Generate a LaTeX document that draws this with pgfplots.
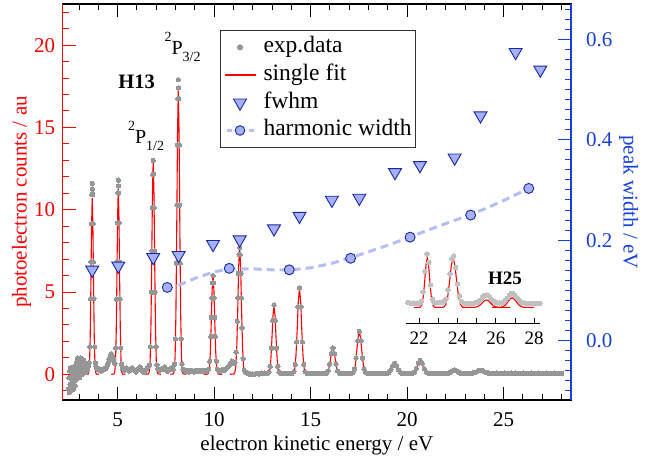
\documentclass[border=0pt]{standalone}
\usepackage{fontspec}
\setmainfont{Liberation Serif}
\usepackage{pgfplots}
\pgfplotsset{compat=1.18}
\usepackage{pgfplotstable}

\definecolor{fitred}{RGB}{255,0,0}
\definecolor{axblue}{RGB}{25,65,215}
\definecolor{trifill}{RGB}{165,176,245}
\definecolor{triedge}{RGB}{25,40,165}
\definecolor{dashc}{RGB}{182,190,246}
\definecolor{dotgray}{RGB}{150,150,150}
\definecolor{insetgray}{RGB}{192,192,192}
\definecolor{legframe}{RGB}{50,50,50}

% experimental data (main spectrum)
\pgfplotstableread{
x y
2.45 -0.90
2.47 -0.20
2.49 -1.10
2.51 0.20
2.53 -0.60
2.55 0.40
2.57 -1.00
2.59 -0.30
2.61 0.30
2.63 -0.80
2.65 0.00
2.67 -0.50
2.69 0.45
2.71 -0.90
2.73 0.10
2.75 -0.40
2.77 0.30
2.79 -0.70
2.81 0.20
2.83 -0.20
2.85 0.60
2.87 -0.30
2.89 0.80
2.91 0.10
2.93 1.00
2.95 -0.10
2.97 0.70
2.99 0.30
3.01 0.90
3.03 -0.20
3.05 0.60
3.07 1.00
3.09 0.20
3.11 0.80
3.13 0.40
3.15 0.95
3.17 0.00
3.19 0.70
3.21 0.50
3.23 0.85
3.25 0.30
3.27 0.60
3.29 0.20
3.31 0.70
3.33 0.40
3.35 0.60
3.37 0.15
3.39 0.50
3.41 0.35
3.43 0.65
3.45 0.40
3.47 0.55
3.49 0.50
3.512 0.71
3.554 1.68
3.596 4.60
3.617 6.83
3.638 9.15
3.659 10.93
3.680 11.60
3.690 11.25
3.701 10.93
3.722 9.15
3.743 6.83
3.764 4.60
3.806 1.68
3.848 0.71
3.87 0.50
3.91 0.35
3.95 0.40
3.99 0.30
4.03 0.35
4.07 0.25
4.11 0.30
4.15 0.20
4.19 0.30
4.23 0.25
4.27 0.35
4.31 0.30
4.35 0.40
4.39 0.35
4.43 0.45
4.47 0.55
4.51 0.70
4.55 0.90
4.59 1.05
4.63 1.20
4.67 1.25
4.71 1.15
4.75 1.00
4.79 0.85
4.83 0.70
4.856 0.65
4.900 1.60
4.943 4.57
4.965 6.84
4.987 9.20
5.008 11.02
5.030 11.80
5.040 11.45
5.052 11.02
5.073 9.20
5.095 6.84
5.117 4.57
5.160 1.60
5.204 0.61
5.25 0.35
5.30 0.30
5.35 0.25
5.40 0.35
5.45 0.40
5.50 0.30
5.55 0.25
5.60 0.20
5.65 0.25
5.70 0.35
5.75 0.40
5.80 0.35
5.85 0.25
5.90 0.20
5.95 0.15
6.00 0.25
6.05 0.35
6.10 0.40
6.15 0.45
6.20 0.35
6.25 0.25
6.30 0.15
6.35 0.10
6.40 0.15
6.45 0.25
6.50 0.35
6.55 0.45
6.60 0.50
6.648 0.58
6.696 1.68
6.744 4.98
6.768 7.50
6.792 10.13
6.816 12.15
6.840 13.00
6.864 12.15
6.888 10.13
6.912 7.50
6.936 4.98
6.984 1.68
7.032 0.58
7.08 0.35
7.13 0.30
7.18 0.25
7.23 0.30
7.28 0.35
7.33 0.30
7.38 0.40
7.43 0.45
7.48 0.35
7.53 0.25
7.58 0.20
7.63 0.25
7.68 0.30
7.73 0.35
7.78 0.40
7.83 0.35
7.88 0.30
7.942 0.62
7.991 2.16
8.041 6.76
8.066 10.28
8.090 13.93
8.115 16.75
8.140 17.90
8.150 17.40
8.165 16.75
8.190 13.93
8.214 10.28
8.239 6.76
8.289 2.16
8.338 0.62
8.39 0.30
8.44 0.25
8.50 0.20
8.55 0.20
8.60 0.25
8.65 0.20
8.70 0.15
8.75 0.20
8.80 0.25
8.85 0.20
8.90 0.20
8.95 0.15
9.00 0.20
9.05 0.25
9.10 0.20
9.15 0.20
9.20 0.25
9.25 0.20
9.30 0.20
9.35 0.20
9.40 0.25
9.45 0.20
9.50 0.20
9.55 0.25
9.60 0.20
9.65 0.25
9.712 0.31
9.769 0.80
9.826 2.30
9.855 3.45
9.883 4.64
9.912 5.56
9.940 6.00
9.969 5.56
9.997 4.64
10.026 3.45
10.054 2.30
10.111 0.80
10.168 0.31
10.22 0.25
10.27 0.20
10.32 0.25
10.37 0.20
10.42 0.25
10.47 0.30
10.52 0.25
10.57 0.30
10.62 0.35
10.67 0.40
10.72 0.45
10.77 0.50
10.82 0.60
10.87 0.70
10.92 0.80
10.97 0.75
11.02 0.65
11.08 0.73
11.14 1.35
11.20 3.22
11.23 4.65
11.26 6.13
11.29 7.27
11.32 7.70
11.35 7.27
11.38 6.13
11.41 4.65
11.44 2.82
11.50 0.95
11.56 0.25
11.62 0.15
11.68 0.10
11.75 0.05
11.82 0.00
11.90 0.02
11.98 0.02
12.06 0.00
12.14 0.03
12.22 0.05
12.30 0.02
12.38 0.05
12.46 0.08
12.54 0.05
12.62 0.07
12.70 0.05
12.748 0.05
12.836 0.13
12.902 0.49
12.968 1.58
13.034 3.28
13.100 4.20
13.166 3.28
13.232 1.58
13.298 0.49
13.364 0.13
13.452 0.05
13.52 0.05
13.60 0.05
13.68 0.06
13.76 0.05
13.84 0.05
13.92 0.06
13.98 0.05
14.028 0.05
14.126 0.15
14.199 0.60
14.273 1.97
14.347 4.10
14.420 5.25
14.494 4.10
14.567 1.97
14.641 0.60
14.714 0.15
14.812 0.05
14.89 0.05
14.97 0.05
15.05 0.06
15.13 0.05
15.21 0.05
15.29 0.05
15.37 0.06
15.45 0.05
15.53 0.05
15.62 0.05
15.710 0.05
15.820 0.08
15.902 0.21
15.985 0.62
16.068 1.26
16.150 1.60
16.233 1.26
16.315 0.62
16.398 0.21
16.480 0.08
16.590 0.05
16.68 0.05
16.77 0.05
16.86 0.06
16.95 0.05
17.072 0.05
17.184 0.10
17.268 0.32
17.352 0.99
17.436 2.04
17.520 2.60
17.604 2.04
17.688 0.99
17.772 0.32
17.856 0.10
17.968 0.05
18.06 0.05
18.15 0.05
18.24 0.06
18.33 0.05
18.42 0.05
18.51 0.05
18.60 0.05
18.70 0.05
18.822 0.05
18.954 0.06
19.053 0.12
19.152 0.28
19.251 0.53
19.350 0.67
19.449 0.53
19.548 0.28
19.647 0.12
19.746 0.06
19.878 0.05
20.00 0.05
20.128 0.05
20.266 0.065
20.370 0.13
20.473 0.35
20.577 0.67
20.680 0.85
20.784 0.67
20.887 0.35
20.991 0.13
21.094 0.065
21.232 0.05
21.33 0.05
21.43 0.05
21.53 0.06
21.63 0.05
21.73 0.05
21.83 0.05
21.93 0.05
22.018 0.05
22.126 0.07
22.234 0.13
22.342 0.22
22.450 0.27
22.558 0.22
22.666 0.13
22.774 0.07
22.882 0.05
22.98 0.05
23.08 0.05
23.18 0.05
23.272 0.05
23.404 0.07
23.536 0.12
23.668 0.21
23.800 0.25
23.932 0.21
24.064 0.12
24.196 0.07
24.328 0.05
24.43 0.06
24.53 0.04
24.63 0.07
24.73 0.05
24.83 0.06
24.93 0.04
25.03 0.07
25.13 0.05
25.23 0.06
25.33 0.04
25.43 0.08
25.53 0.06
25.63 0.07
25.73 0.05
25.83 0.06
25.93 0.04
26.03 0.07
26.13 0.05
26.23 0.06
26.33 0.04
26.43 0.07
26.53 0.05
26.63 0.06
26.73 0.04
26.83 0.07
26.93 0.05
27.03 0.06
27.13 0.04
27.23 0.07
27.33 0.05
27.43 0.06
27.53 0.04
27.63 0.07
27.73 0.05
27.83 0.06
27.93 0.04
28.00 0.05
}\expdata

% inset experimental data
\pgfplotstableread{
x y
21.4 0.10
21.5 0.09
21.6 0.08
21.7 0.09
21.8 0.08
21.9 0.09
22.0 0.08
22.1 0.12
22.2 0.31
22.3 0.72
22.4 1.07
22.5 0.90
22.6 0.45
22.7 0.17
22.8 0.09
22.9 0.09
23.0 0.10
23.1 0.10
23.2 0.10
23.3 0.12
23.4 0.17
23.5 0.35
23.6 0.67
23.7 0.97
23.8 1.03
23.9 0.80
24.0 0.47
24.1 0.23
24.2 0.12
24.3 0.09
24.4 0.08
24.5 0.08
24.6 0.08
24.7 0.08
24.8 0.08
24.9 0.09
25.0 0.10
25.1 0.12
25.2 0.15
25.3 0.20
25.4 0.24
25.5 0.25
25.6 0.24
25.7 0.20
25.8 0.15
25.9 0.12
26.0 0.10
26.1 0.09
26.2 0.09
26.3 0.09
26.4 0.11
26.5 0.15
26.6 0.19
26.7 0.24
26.8 0.28
26.9 0.28
27.0 0.24
27.1 0.19
27.2 0.15
27.3 0.11
27.4 0.09
27.5 0.09
27.6 0.08
27.7 0.08
27.8 0.08
27.9 0.08
28.0 0.08
28.1 0.08
28.2 0.08
28.3 0.08
}\insetdata

\begin{document}
\begin{tikzpicture}
\begin{axis}[name=main,
  scale only axis, width=508.3pt, height=396pt,
  xmin=2.15, xmax=28.49, ymin=-1.56, ymax=22.5,
  enlargelimits=false, clip=false,
  axis line style={black, line width=1.1pt},
  tick align=inside,
  major tick length=13pt, minor tick length=6pt,
  xtick={5,10,15,20,25}, minor xtick={3,4,...,28},
  ytick={0,5,10,15,20}, minor ytick={-1,0,...,22},
  ytick pos=left, xtick pos=both,
  x tick style={black, line width=1pt},
  y tick style={fitred, line width=1pt},
  /pgf/number format/assume math mode=true,
  tick label style={font=\fontsize{21}{25}\selectfont},
  xticklabel style={anchor=base, yshift=-26.7pt},
  yticklabel style={text=fitred, anchor=east, inner sep=0pt, xshift=-7.5pt},
]
\addplot[only marks, mark=*, color=dotgray, mark size=2.2pt, mark options={draw=dotgray, fill=dotgray, line width=0pt}] table[x=x,y=y] {\expdata};

\addplot[fitred, line width=1.1pt] coordinates {(3.33,0) (3.47,0.02) (3.505,0.14) (3.54,0.67) (3.575,2.25) (3.61,5.35) (3.645,9.0) (3.68,10.7) (3.715,9.0) (3.75,5.35) (3.785,2.25) (3.82,0.67) (3.855,0.14) (3.89,0.02) (4.03,0)};
\addplot[fitred, line width=1.1pt] coordinates {(4.6675,0) (4.8125,0.02) (4.849,0.15) (4.885,0.71) (4.921,2.37) (4.9575,5.65) (4.994,9.50) (5.03,11.3) (5.066,9.50) (5.1025,5.65) (5.139,2.37) (5.175,0.71) (5.211,0.15) (5.2475,0.02) (5.3925,0)};
\addplot[fitred, line width=1.1pt] coordinates {(6.44,0) (6.60,0.03) (6.64,0.17) (6.68,0.81) (6.72,2.73) (6.76,6.5) (6.80,10.93) (6.84,13.0) (6.88,10.93) (6.92,6.5) (6.96,2.73) (7.00,0.81) (7.04,0.17) (7.08,0.03) (7.24,0)};
\addplot[fitred, line width=1.1pt] coordinates {(7.7275,0) (7.8925,0.03) (7.934,0.23) (7.975,1.08) (8.016,3.63) (8.0575,8.65) (8.099,14.55) (8.14,17.3) (8.181,14.55) (8.2225,8.65) (8.264,3.63) (8.305,1.08) (8.346,0.23) (8.3875,0.03) (8.5525,0)};
\addplot[fitred, line width=1.1pt] coordinates {(9.465,0) (9.655,0.01) (9.7025,0.08) (9.75,0.38) (9.7975,1.27) (9.845,3.03) (9.8925,5.09) (9.94,6.05) (9.9875,5.09) (10.035,3.03) (10.0825,1.27) (10.13,0.38) (10.1775,0.08) (10.225,0.01) (10.415,0)};
\addplot[fitred, line width=1.1pt] coordinates {(10.82,0) (11.02,0.02) (11.07,0.10) (11.12,0.49) (11.17,1.64) (11.22,3.9) (11.27,6.56) (11.32,7.8) (11.37,6.56) (11.42,3.9) (11.47,1.64) (11.52,0.49) (11.57,0.10) (11.62,0.02) (11.82,0)};
\addplot[fitred, line width=1.1pt] coordinates {(12.55,0) (12.77,0.01) (12.825,0.05) (12.88,0.26) (12.935,0.88) (12.99,2.1) (13.045,3.53) (13.1,4.2) (13.155,3.53) (13.21,2.1) (13.265,0.88) (13.32,0.26) (13.375,0.05) (13.43,0.01) (13.65,0)};
\addplot[fitred, line width=1.1pt] coordinates {(13.8075,0) (14.0525,0.01) (14.114,0.07) (14.175,0.33) (14.236,1.10) (14.2975,2.63) (14.359,4.42) (14.42,5.25) (14.481,4.42) (14.5425,2.63) (14.604,1.10) (14.665,0.33) (14.726,0.07) (14.7875,0.01) (15.0325,0)};
\addplot[fitred, line width=1.1pt] coordinates {(15.4625,0) (15.7375,0) (15.806,0.02) (15.875,0.10) (15.944,0.34) (16.0125,0.80) (16.081,1.35) (16.15,1.6) (16.219,1.35) (16.2875,0.80) (16.356,0.34) (16.425,0.10) (16.494,0.02) (16.5625,0) (16.8375,0)};
\addplot[fitred, line width=1.1pt] coordinates {(16.82,0) (17.1,0.01) (17.17,0.03) (17.24,0.16) (17.31,0.55) (17.38,1.3) (17.45,2.19) (17.52,2.6) (17.59,2.19) (17.66,1.3) (17.73,0.55) (17.80,0.16) (17.87,0.03) (17.94,0.01) (18.22,0)};
\addplot[fitred, line width=1.1pt] coordinates {(18.525,0) (18.855,0) (18.9375,0.01) (19.02,0.04) (19.1025,0.14) (19.185,0.33) (19.2675,0.55) (19.35,0.65) (19.4325,0.55) (19.515,0.33) (19.5975,0.14) (19.68,0.04) (19.7625,0.01) (19.845,0) (20.175,0)};
\addplot[fitred, line width=1.1pt] coordinates {(19.8175,0) (20.1625,0) (20.249,0.01) (20.335,0.05) (20.421,0.17) (20.5075,0.41) (20.594,0.69) (20.68,0.82) (20.766,0.69) (20.8525,0.41) (20.939,0.17) (21.025,0.05) (21.111,0.01) (21.1975,0) (21.5425,0)};
\addplot[fitred, line width=1.1pt] coordinates {(21.55,0) (21.91,0) (22.0,0) (22.09,0.02) (22.18,0.05) (22.27,0.13) (22.36,0.21) (22.45,0.25) (22.54,0.21) (22.63,0.13) (22.72,0.05) (22.81,0.02) (22.9,0) (22.99,0) (23.35,0)};
\addplot[fitred, line width=1.1pt] coordinates {(22.7,0) (23.14,0) (23.25,0) (23.36,0.01) (23.47,0.05) (23.58,0.11) (23.69,0.19) (23.8,0.22) (23.91,0.19) (24.02,0.11) (24.13,0.05) (24.24,0.01) (24.35,0) (24.46,0) (25.1,0)};

\draw[fitred, line width=1.1pt] (rel axis cs:0,0) -- (rel axis cs:0,1);
\coordinate (insetpos) at (axis cs:19.92,3.10);

\node[anchor=base, font=\fontsize{20.5}{24}\selectfont\bfseries] at (axis cs:5.98,17.39) {H13};
\node[anchor=base, font=\fontsize{20}{24}\selectfont, inner sep=0pt] at (axis cs:8.36,19.41) {\raisebox{0.66em}{\fontsize{14}{16}\selectfont 2}P\raisebox{-0.35em}{\fontsize{14}{16}\selectfont 3/2}};
\node[anchor=base, font=\fontsize{20}{24}\selectfont, inner sep=0pt] at (axis cs:6.47,14.04) {\raisebox{0.66em}{\fontsize{14}{16}\selectfont 2}P\raisebox{-0.35em}{\fontsize{14}{16}\selectfont 1/2}};
\node[anchor=base, font=\fontsize{19}{22}\selectfont\bfseries] at (axis cs:25.07,5.47) {H25};
\end{axis}

\begin{axis}[
  scale only axis, width=508.3pt, height=396pt,
  xmin=2.15, xmax=28.49, ymin=-0.118, ymax=0.67,
  enlargelimits=false,
  axis y line*=right, axis x line=none,
  y axis line style={axblue, line width=1.1pt, -},
  tick align=inside,
  major tick length=13pt, minor tick length=6pt,
  ytick={0,0.2,0.4,0.6},
  minor ytick={-0.1,-0.08,-0.06,-0.04,-0.02,0.02,0.04,0.06,0.08,0.1,0.12,0.14,0.16,0.18,0.22,0.24,0.26,0.28,0.3,0.32,0.34,0.36,0.38,0.42,0.44,0.46,0.48,0.5,0.52,0.54,0.56,0.58,0.62,0.64,0.66},
  ytick pos=right,
  y tick style={axblue, line width=1pt},
  /pgf/number format/assume math mode=true,
  tick label style={font=\fontsize{21}{25}\selectfont},
  yticklabel style={text=axblue, anchor=west, inner sep=0pt, xshift=15pt,
    /pgf/number format/fixed, /pgf/number format/fixed zerofill, /pgf/number format/precision=1},
  legend image code/.code={\draw[mark repeat=2,mark phase=2,#1] plot coordinates {(0pt,0pt) (15pt,0pt) (30pt,0pt)};},
  legend style={at={(rel axis cs:0.3095,0.934)}, anchor=north west,
    draw=legframe, line width=1pt, fill=white,
    font=\fontsize{23.5}{28}\selectfont,
    inner xsep=4pt, inner ysep=6pt, row sep=6.2pt, column sep=8pt,
    nodes={inner sep=0pt, text height=16pt, text depth=5.5pt}},
  legend cell align=left,
]
\addlegendimage{legend image code/.code={\fill[dotgray] (15pt,0pt) circle (2.5pt);}}
\addlegendentry{exp.data}
\addlegendimage{legend image code/.code={\fill[fitred] (0pt,-0.6pt) rectangle (30pt,0.6pt);}}
\addlegendentry{single fit}

\addplot[dashc, line width=3pt, dash pattern=on 8pt off 5pt, forget plot] coordinates {(8.15,0.110) (9.0,0.124) (10.0,0.137) (10.8,0.143) (12.0,0.143) (13.0,0.141) (14.0,0.141) (15.0,0.145) (16.0,0.153) (17.0,0.164) (18.0,0.177) (19.0,0.190) (20.0,0.204) (21.0,0.219) (22.0,0.233) (23.0,0.247) (24.0,0.262) (25.0,0.279) (26.3,0.303)};
\addplot[only marks, mark=*, mark size=5pt, mark options={fill=trifill, draw=triedge, line width=0.9pt}, forget plot] coordinates {(7.57,0.106) (10.78,0.144) (13.89,0.141) (17.07,0.164) (20.15,0.206) (23.29,0.250) (26.3,0.303)};
\addplot[only marks, mark=triangle*, mark size=7.5pt, mark options={rotate=180, fill=trifill, draw=triedge, line width=0.9pt}] coordinates {(3.68,0.141) (5.03,0.149) (6.84,0.166) (8.16,0.170) (9.94,0.192) (11.32,0.201) (13.1,0.223) (14.42,0.248) (16.1,0.280) (17.52,0.284) (19.37,0.335) (20.66,0.349) (22.46,0.364) (23.8,0.448) (25.62,0.574) (26.9,0.539)};
\addlegendentry{fwhm}
\addlegendimage{legend image code/.code={\draw[draw=dashc, line width=3pt] (1.5pt,0pt)--(6.5pt,0pt) (23.5pt,0pt)--(28.5pt,0pt); \draw[draw=triedge, fill=trifill, line width=0.9pt] (15pt,0pt) circle (4.8pt);}}
\addlegendentry{harmonic width}
\end{axis}

% inset
\begin{axis}[at={(insetpos)}, anchor=south west,
  scale only axis, width=134.3pt, height=73.3pt,
  xmin=21.29, xmax=28.3, ymin=-0.32, ymax=1.15,
  enlargelimits=false,
  axis x line*=bottom, axis y line=none,
  x axis line style={black, line width=1pt, -},
  xtick pos=left,
  tick align=inside,
  major tick length=5pt, minor tick length=5pt,
  xtick={22,24,26,28}, minor xtick={23,25,27},
  x tick style={black, line width=0.9pt},
  /pgf/number format/assume math mode=true,
  xticklabel style={font=\fontsize{19}{22}\selectfont, anchor=base, yshift=-21pt},
]
\addplot[only marks, mark=*, color=insetgray, mark size=2.2pt, mark options={draw=insetgray, fill=insetgray, line width=0pt}] table[x=x,y=y] {\insetdata};
\addplot[fitred, line width=1.1pt] coordinates {(21.72,0) (22.0,0) (22.07,0.01) (22.14,0.06) (22.21,0.21) (22.28,0.5) (22.35,0.84) (22.42,1.0) (22.49,0.84) (22.56,0.5) (22.63,0.21) (22.70,0.06) (22.77,0.01) (22.84,0) (23.12,0)};
\addplot[fitred, line width=1.1pt] coordinates {(22.82,0) (23.20,0) (23.295,0.01) (23.39,0.06) (23.485,0.21) (23.58,0.5) (23.675,0.84) (23.77,1.0) (23.865,0.84) (23.96,0.5) (24.055,0.21) (24.15,0.06) (24.245,0.01) (24.34,0) (24.72,0)};
\addplot[fitred, line width=1.1pt] coordinates {(24.25,0) (24.75,0) (24.875,0) (25.0,0.01) (25.125,0.03) (25.25,0.075) (25.375,0.126) (25.5,0.15) (25.625,0.126) (25.75,0.075) (25.875,0.03) (26.0,0.01) (26.125,0) (26.25,0) (26.75,0)};
\addplot[fitred, line width=1.1pt] coordinates {(25.8,0) (26.1,0) (26.225,0) (26.35,0.012) (26.475,0.04) (26.6,0.095) (26.725,0.16) (26.85,0.19) (26.975,0.16) (27.1,0.095) (27.225,0.04) (27.35,0.012) (27.475,0) (27.6,0) (28.0,0)};
\end{axis}

\node[rotate=90, anchor=base, text=fitred, font=\fontsize{21}{25}\selectfont] at ([xshift=-36pt]main.west) {photoelectron counts / au};
\node[rotate=-90, anchor=base, text=axblue, font=\fontsize{21}{25}\selectfont] at ([xshift=52.5pt]main.east) {peak width / eV};
\node[anchor=base, font=\fontsize{21}{25}\selectfont] at ([yshift=-50pt]main.south) {electron kinetic energy / eV};

\pgfresetboundingbox
\path ([shift={(-62.7pt,-57pt)}]main.south west) rectangle ([shift={(97pt,4pt)}]main.north east);
\end{tikzpicture}
\end{document}
